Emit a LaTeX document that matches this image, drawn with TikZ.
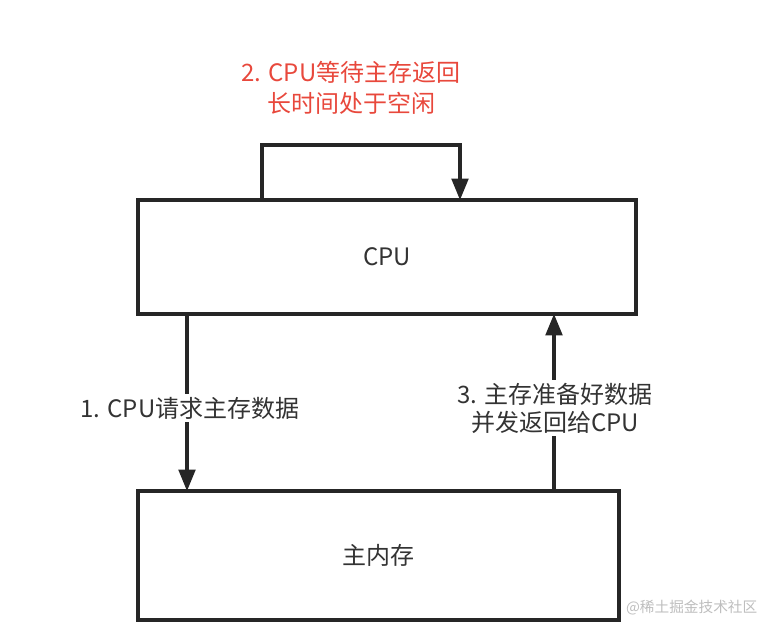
\documentclass[tikz,border=0pt]{standalone}
\usepackage{fontspec}
\setmainfont{Noto Sans CJK SC}
\usetikzlibrary{arrows.meta}
\definecolor{txt}{RGB}{51,51,51}
\definecolor{redtxt}{RGB}{232,72,60}
\definecolor{wm}{RGB}{190,190,190}
\begin{document}
\begin{tikzpicture}[x=0.75pt,y=-0.75pt,
  box/.style={draw=black!85,line width=2.3pt,inner sep=0pt},
  conn/.style={draw=black!85,line width=2.3pt,-{Triangle[length=16pt,width=12.5pt]}},
  lbl/.style={fill=white,text=txt,font=\fontsize{18}{21}\selectfont,align=center,inner sep=2pt},
  redlbl/.style={text=redtxt,font=\fontsize{18}{23}\selectfont,align=center}]
\useasboundingbox (0,0) rectangle (765,627);
\node[box,minimum width=498*0.75pt,minimum height=114*0.75pt] (cpu) at (387,257) {};
\node[text=txt,font=\fontsize{18}{21}\selectfont] (cputxt) at (cpu.center) {CPU};
\node[box,minimum width=481*0.75pt,minimum height=129*0.75pt] (mem) at (378.5,555.5) {};
\node[text=txt,font=\fontsize{18}{21}\selectfont] (memtxt) at (mem.center) {主内存};
% loop arrow
\coordinate (l1) at (262,200);
\coordinate (l2) at (460,200);
\draw[conn] (l1) -- (262,145) -- (460,145) -- (l2);
\node[redlbl] (wait) at (351,88) {2. CPU等待主存返回\\长时间处于空闲};
% arrow 1
\coordinate (a1s) at (187,314);
\coordinate (a1e) at (187,491);
\draw[conn] (a1s) -- (a1e);
\node[lbl] (req) at (190,408) {1. CPU请求主存数据};
% arrow 3
\coordinate (a3s) at (554,491);
\coordinate (a3e) at (554,314);
\draw[conn] (a3s) -- (a3e);
\node[lbl] (ret) at (555,408) {3. 主存准备好数据\\并发返回给CPU};
\node[text=wm,font=\fontsize{11}{13}\selectfont,anchor=east] (wmk) at (762,608) {@稀土掘金技术社区};
\end{tikzpicture}
\end{document}
